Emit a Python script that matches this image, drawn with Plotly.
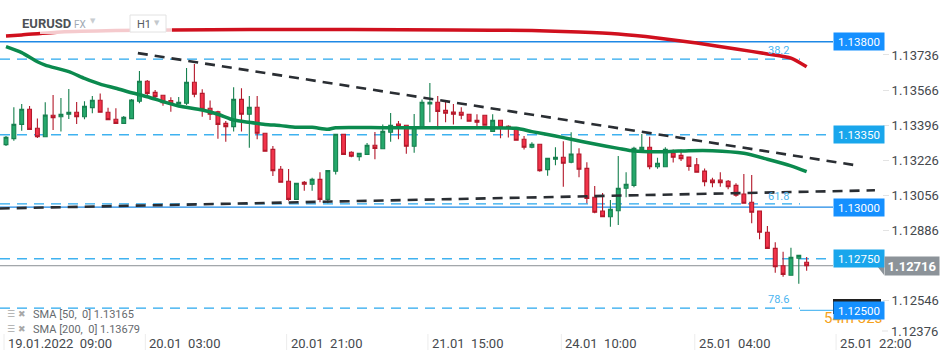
import plotly.graph_objects as go

# ---------------- data ----------------
bar_index = list(range(103))
open_ = [1.13302,1.13331,1.13400,1.13473,1.13381,1.13340,1.13444,1.13437,1.13449,1.13459,
         1.13437,1.13481,1.13517,1.13459,1.13425,1.13405,1.13428,1.13512,1.13609,1.13555,
         1.13541,1.13515,1.13499,1.13502,1.13604,1.13550,1.13478,1.13461,1.13405,1.13389,
         1.13521,1.13449,1.13483,1.13357,1.13279,1.13183,1.13125,1.13037,1.13120,1.13110,
         1.13134,1.13037,1.13173,1.13352,1.13265,1.13244,1.13255,1.13299,1.13282,1.13362,
         1.13402,1.13396,1.13294,1.13381,1.13499,1.13507,1.13468,1.13460,1.13459,1.13449,
         1.13420,1.13444,1.13366,1.13420,1.13391,1.13381,1.13328,1.13289,1.13304,1.13181,
         1.13231,1.13241,1.13217,1.13257,1.13187,1.13047,1.12981,1.12953,1.12982,1.13091,
         1.13105,1.13278,1.13289,1.13195,1.13195,1.13260,1.13250,1.13242,1.13205,1.13174,
         1.13131,1.13131,1.13125,1.13105,1.13063,1.13023,1.12981,1.12878,1.12800,1.12716,
         1.12670,1.12752,1.12733]
high = [1.13344,1.13483,1.13499,1.13489,1.13429,1.13507,1.13542,1.13528,1.13571,1.13508,
        1.13512,1.13537,1.13550,1.13481,1.13478,1.13441,1.13523,1.13658,1.13615,1.13566,
        1.13541,1.13531,1.13533,1.13673,1.13692,1.13570,1.13515,1.13466,1.13416,1.13580,
        1.13575,1.13537,1.13537,1.13357,1.13295,1.13199,1.13184,1.13115,1.13126,1.13142,
        1.13168,1.13176,1.13352,1.13352,1.13270,1.13260,1.13310,1.13363,1.13400,1.13455,
        1.13416,1.13396,1.13450,1.13520,1.13600,1.13537,1.13515,1.13499,1.13483,1.13449,
        1.13449,1.13444,1.13449,1.13420,1.13396,1.13381,1.13344,1.13313,1.13304,1.13236,
        1.13289,1.13318,1.13362,1.13284,1.13217,1.13102,1.13068,1.13034,1.13247,1.13168,
        1.13292,1.13353,1.13340,1.13239,1.13289,1.13279,1.13279,1.13242,1.13237,1.13187,
        1.13142,1.13168,1.13131,1.13115,1.13160,1.13155,1.12981,1.12908,1.12829,1.12784,
        1.12803,1.12766,1.12758]
low = [1.13295,1.13321,1.13369,1.13376,1.13334,1.13340,1.13373,1.13365,1.13426,1.13402,
       1.13425,1.13454,1.13459,1.13423,1.13405,1.13405,1.13428,1.13502,1.13537,1.13523,
       1.13490,1.13461,1.13499,1.13494,1.13531,1.13437,1.13421,1.13331,1.13316,1.13365,
       1.13365,1.13287,1.13328,1.13270,1.13150,1.13120,1.13031,1.13037,1.13079,1.13079,
       1.13023,1.13018,1.13158,1.13255,1.13241,1.13224,1.13255,1.13231,1.13282,1.13316,
       1.13328,1.13258,1.13263,1.13381,1.13410,1.13376,1.13410,1.13400,1.13425,1.13415,
       1.13391,1.13396,1.13366,1.13333,1.13336,1.13323,1.13279,1.13284,1.13171,1.13152,
       1.13202,1.13098,1.13212,1.13144,1.13018,1.12970,1.12950,1.12905,1.12913,1.13047,
       1.13096,1.13278,1.13183,1.13185,1.13195,1.13215,1.13223,1.13176,1.13168,1.13100,
       1.13096,1.13098,1.13086,1.13050,1.13018,1.12921,1.12844,1.12800,1.12682,1.12663,
       1.12670,1.12629,1.12692]
close = [1.13338,1.13400,1.13473,1.13376,1.13340,1.13445,1.13432,1.13449,1.13459,1.13437,
         1.13488,1.13517,1.13459,1.13423,1.13405,1.13434,1.13518,1.13609,1.13550,1.13534,
         1.13505,1.13499,1.13507,1.13604,1.13546,1.13473,1.13449,1.13400,1.13389,1.13521,
         1.13449,1.13483,1.13357,1.13270,1.13176,1.13120,1.13037,1.13115,1.13110,1.13134,
         1.13037,1.13176,1.13352,1.13255,1.13246,1.13260,1.13299,1.13284,1.13366,1.13396,
         1.13389,1.13294,1.13386,1.13507,1.13507,1.13463,1.13454,1.13449,1.13444,1.13415,
         1.13410,1.13396,1.13420,1.13386,1.13381,1.13323,1.13289,1.13304,1.13176,1.13236,
         1.13241,1.13212,1.13257,1.13183,1.13042,1.12975,1.12953,1.12989,1.13091,1.13110,
         1.13284,1.13289,1.13195,1.13212,1.13279,1.13241,1.13234,1.13197,1.13168,1.13123,
         1.13118,1.13118,1.13098,1.13057,1.13018,1.12975,1.12878,1.12800,1.12711,1.12674,
         1.12757,1.12766,1.12716]

sma50_x = [0,2,4,5,8,10,12,14,16,18,20,22,25,27,29,31,33,35,37,39,41,42,48,53,60,65,67,
           70,72,75,78,80,84,87,90,94,97,100,102]
sma50_y = [1.13776,1.13747,1.13703,1.13687,1.13655,1.13623,1.13595,1.13575,1.13553,1.13534,
           1.13510,1.13489,1.13470,1.13449,1.13421,1.13410,1.13400,1.13394,1.13386,1.13386,
           1.13376,1.13384,1.13384,1.13384,1.13384,1.13381,1.13365,1.13344,1.13328,1.13305,
           1.13284,1.13271,1.13268,1.13273,1.13273,1.13260,1.13231,1.13199,1.13171]
sma200_x = [0,2,7,14,21,31,44,57,67,73,78,83,88,93,97,100,102]
sma200_y = [1.13828,1.13833,1.13847,1.13854,1.13857,1.13859,1.13859,1.13857,1.13854,1.13847,
            1.13837,1.13818,1.13794,1.13765,1.13741,1.13721,1.13679]

trend_upper_x = [16.8, 108.8]
trend_upper_y = [1.13745, 1.13199]
trend_lower_x = [-0.8, 110.7]
trend_lower_y = [1.12993, 1.13081]

level_solid = [1.13800, 1.13000]
level_dashed = [1.13350, 1.12750]
fib_values = [1.13716, 1.13015, 1.12511]
fib_labels = ["38.2", "61.8", "78.6"]
box_prices = [1.13800, 1.13350, 1.13000, 1.12750, 1.12500]
box_texts = ["1.13800", "1.13350", "1.13000", "1.12750", "1.12500"]
box_colors = ["#1590ff", "#19a6ec", "#1590ff", "#19a6ec", "#1590ff"]
last_price = 1.12716

y_ticks = [1.13736, 1.13566, 1.13396, 1.13226, 1.13056, 1.12886, 1.12546]
y_bottom_tick = 1.12376
x_tick_idx = [0, 18, 36, 54, 71, 88, 106]
x_tick_text = ["19.01.2022\u00a0\u00a009:00", "20.01\u00a0\u00a003:00", "20.01\u00a0\u00a021:00",
               "21.01\u00a0\u00a015:00", "24.01\u00a0\u00a010:00", "25.01\u00a0\u00a004:00",
               "25.01\u00a0\u00a022:00"]

# ---------------- layout helpers ----------------
W, H = 882.0, 337.0
def px(x):
    return x / W
def py(y):
    return 1 - y / H

FONT = "Roboto, 'Open Sans', sans-serif"

fig = go.Figure()

fig.add_trace(go.Candlestick(
    x=bar_index, open=open_, high=high, low=low, close=close,
    increasing=dict(line=dict(color="#17804f", width=1.1), fillcolor="#25a86b"),
    decreasing=dict(line=dict(color="#b3192b", width=1.1), fillcolor="#f2334a"),
    whiskerwidth=0, showlegend=False, hoverinfo="skip"))

fig.add_trace(go.Scatter(x=sma200_x, y=sma200_y, mode="lines",
                         line=dict(color="#d0101e", width=3.5, shape="spline", smoothing=0.6),
                         showlegend=False, hoverinfo="skip"))
fig.add_trace(go.Scatter(x=sma50_x, y=sma50_y, mode="lines",
                         line=dict(color="#0b8a4e", width=3.5, shape="spline", smoothing=0.6),
                         showlegend=False, hoverinfo="skip"))
for tx, ty in [(trend_upper_x, trend_upper_y), (trend_lower_x, trend_lower_y)]:
    fig.add_trace(go.Scatter(x=tx, y=ty, mode="lines",
                             line=dict(color="#2a2e33", width=2.6, dash="10px,7px"),
                             showlegend=False, hoverinfo="skip"))

shapes = []
xr = px(833)
for v in level_solid:
    shapes.append(dict(type="line", xref="paper", yref="y", x0=0, x1=xr, y0=v, y1=v,
                       line=dict(color="#1e88e5", width=1.3), layer="below"))
for v in level_dashed:
    shapes.append(dict(type="line", xref="paper", yref="y", x0=0, x1=xr, y0=v, y1=v,
                       line=dict(color="#3fb2f0", width=1.4, dash="10px,7px"), layer="below"))
for v in fib_values:
    shapes.append(dict(type="line", xref="paper", yref="y", x0=0, x1=px(800), y0=v, y1=v,
                       line=dict(color="#29a8ee", width=1.2, dash="10px,7px"), layer="below"))
shapes.append(dict(type="line", xref="paper", yref="y", x0=px(800), x1=xr, y0=1.12500, y1=1.12500,
                   line=dict(color="#5bbcf2", width=1.3), layer="below"))
shapes.append(dict(type="line", xref="paper", yref="y", x0=0, x1=xr, y0=last_price, y1=last_price,
                   line=dict(color="#8a8f94", width=1), layer="below"))
# header veil
shapes.append(dict(type="rect", xref="paper", yref="paper", x0=px(40), x1=px(172), y0=py(34), y1=1,
                   fillcolor="rgba(255,255,255,0.78)", line=dict(width=0), layer="above"))
# H1 box
shapes.append(dict(type="rect", xref="paper", yref="paper", x0=px(130), x1=px(166), y0=py(32), y1=py(15),
                   fillcolor="white", line=dict(color="#e2e2e2", width=1), layer="above"))
# last price arrow tip
ty = py(266)
shapes.append(dict(type="path", xref="paper", yref="paper",
                   path=f"M {px(877)},{ty} L {px(884)},{py(257)} L {px(884)},{py(275)} Z",
                   fillcolor="#8c9399", line=dict(width=0)))
# hidden dark box behind 1.12500
shapes.append(dict(type="rect", xref="paper", yref="paper", x0=px(833), x1=px(881),
                   y0=py(314), y1=py(299), fillcolor="#202020", line=dict(width=0), layer="above"))
# bottom y tick mark (label lifted above the date row)
shapes.append(dict(type="line", xref="paper", yref="paper", x0=1, x1=px(888),
                   y0=py(331), y1=py(331), line=dict(color="#e3e3e3", width=1)))
# x tick separators
for xi in x_tick_idx:
    shapes.append(dict(type="line", xref="x", yref="paper", x0=xi - 0.25, x1=xi - 0.25,
                       y0=py(334), y1=py(350), line=dict(color="#ececec", width=1)))

ann = []
# header
ann.append(dict(text="<b>EURUSD</b>", x=px(20), y=py(23), xref="paper", yref="paper",
                xanchor="left", yanchor="middle", showarrow=False,
                font=dict(family=FONT, size=13, color="#4d5156")))
ann.append(dict(text="FX", x=px(72), y=py(24), xref="paper", yref="paper",
                xanchor="left", yanchor="middle", showarrow=False,
                font=dict(family=FONT, size=10, color="#9fa9b3")))
ann.append(dict(text="▼", x=px(88), y=py(21), xref="paper", yref="paper",
                xanchor="left", yanchor="middle", showarrow=False,
                font=dict(family="DejaVu Sans", size=7, color="#c9cdd1")))
ann.append(dict(text="H1", x=px(135), y=py(24), xref="paper", yref="paper",
                xanchor="left", yanchor="middle", showarrow=False,
                font=dict(family=FONT, size=11, color="#555a60")))
ann.append(dict(text="▼", x=px(152), y=py(23), xref="paper", yref="paper",
                xanchor="left", yanchor="middle", showarrow=False,
                font=dict(family="DejaVu Sans", size=7, color="#c4c8cc")))
# fib labels
for v, t, yy in zip(fib_values, fib_labels, [50, 196, 299]):
    ann.append(dict(text=t, x=px(766), y=py(yy), xref="paper", yref="paper",
                    xanchor="left", yanchor="middle", showarrow=False,
                    font=dict(family=FONT, size=11, color="#4cb5f0")))
# legend
for yy, t in [(314, "SMA [50,\u00a0 0] 1.13165"), (329, "SMA [200,\u00a0 0] 1.13679")]:
    ann.append(dict(text="☰ ✖", x=px(5), y=py(yy), xref="paper", yref="paper",
                    xanchor="left", yanchor="middle", showarrow=False,
                    font=dict(family="DejaVu Sans", size=9, color="#a8a8a8")))
    ann.append(dict(text=t, x=px(31), y=py(yy), xref="paper", yref="paper",
                    xanchor="left", yanchor="middle", showarrow=False,
                    font=dict(family=FONT, size=11, color="#666a6e")))
# x labels
for xi, t in zip(x_tick_idx, x_tick_text):
    ann.append(dict(text=t, x=xi, y=py(343), xref="x", yref="paper",
                    xanchor="left", yanchor="middle", showarrow=False,
                    font=dict(family=FONT, size=13, color="#45494d")))
# bottom y tick label
ann.append(dict(text=f"{y_bottom_tick:.5f}", x=px(889), y=py(331), xref="paper", yref="paper",
                xanchor="left", yanchor="middle", showarrow=False,
                font=dict(family=FONT, size=13, color="#45494d")))
# orange countdown (partly hidden behind the price box)
ann.append(dict(text="54m 32s", x=px(822), y=py(318), xref="paper", yref="paper",
                xanchor="left", yanchor="middle", showarrow=False,
                font=dict(family=FONT, size=15, color="#f5a21b")))
# price boxes
for v, t, c in zip(box_prices, box_texts, box_colors):
    ann.append(dict(text=t, x=px(833), y=v, xref="paper", yref="y",
                    xanchor="left", yanchor="middle", showarrow=False, width=48, height=15,
                    bgcolor=c, font=dict(family=FONT, size=11.5, color="white")))
# last price box
ann.append(dict(text="<b>1.12716</b>", x=px(884), y=py(266), xref="paper", yref="paper",
                xanchor="left", yanchor="middle", showarrow=False, width=52, height=16,
                bgcolor="#8c9399", font=dict(family=FONT, size=13, color="white")))

fig.update_layout(
    width=950, height=361,
    margin=dict(l=0, r=68, t=0, b=24),
    paper_bgcolor="white", plot_bgcolor="white",
    shapes=shapes, annotations=ann,
    xaxis=dict(range=[-0.764, 111.6], showgrid=False, zeroline=False, showline=False,
               showticklabels=False, ticks="", rangeslider=dict(visible=False), fixedrange=True),
    yaxis=dict(range=[1.12371, 1.14002], side="right", showgrid=False, zeroline=False,
               showline=False, tickvals=y_ticks, ticktext=[f"{v:.5f}" for v in y_ticks],
               ticks="outside", ticklen=6, tickcolor="#e3e3e3",
               tickfont=dict(family=FONT, size=13, color="#45494d"), fixedrange=True),
    showlegend=False,
)

fig.write_html("out.html", config={"displayModeBar": False},
               post_script="document.body.style.margin='0px';")
